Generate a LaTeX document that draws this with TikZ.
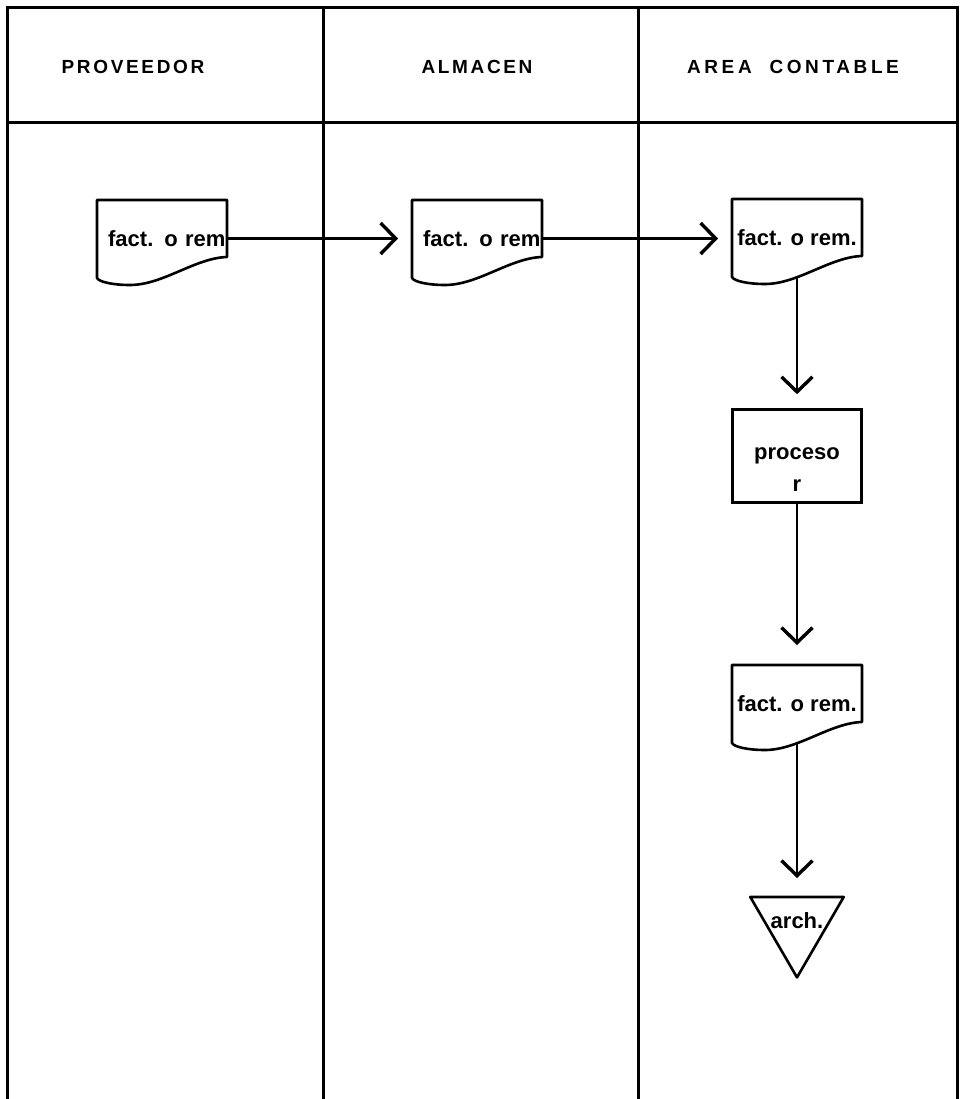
\documentclass[tikz,border=0pt]{standalone}
\usepackage{fontspec}
\setmainfont{Liberation Sans}
\newfontfamily\hdrfont[LetterSpace=14]{Liberation Sans}
\newfontfamily\hdrwidefont[LetterSpace=19]{Liberation Sans}
\usetikzlibrary{arrows.meta}

% outline of a document symbol drawn around a (borderless) node
\newcommand\docoutline[1]{%
  \draw[outl] (#1.north west) -- (#1.north east) -- ([yshift=-57pt]#1.north east)
    .. controls ([shift={(-32pt,-58pt)}]#1.north east) and ([shift={(66pt,-85pt)}]#1.north west)
    .. ([shift={(33pt,-85pt)}]#1.north west)
    .. controls ([shift={(16pt,-85pt)}]#1.north west) and ([shift={(2pt,-82pt)}]#1.north west)
    .. ([yshift=-78pt]#1.north west) -- cycle;}

\begin{document}
\begin{tikzpicture}[x=1pt,y=-1pt,
  frame/.style={line width=3pt},
  outl/.style={line width=2.6pt, line join=round},
  hdr/.style={font=\hdrfont\bfseries\fontsize{19}{22}\selectfont},
  txt/.style={font=\bfseries\fontsize{22}{25}\selectfont},
  docnode/.style={txt, minimum width=130pt, minimum height=77pt, inner sep=0pt, outer sep=0pt, anchor=north west},
  flushright/.style={text width=127pt, align=right},
  flow/.style={line width=2.6pt, -{Straight Barb[length=15pt,width=31pt,line width=3.4pt]}, shorten >=14pt}
]
\useasboundingbox (0,0) rectangle (959,1099);

% lanes and header
\draw[frame] (7,1099) -- (7,8) -- (957,8) -- (957,1099);
\draw[frame] (7,123) -- (957,123);
\draw[frame] (323,8) -- (323,1099);
\draw[frame] (638,8) -- (638,1099);

\node[hdr] (h1) at (133,67) {PROVEEDOR};
\node[hdr] (h2) at (477,67) {ALMACEN};
\node[hdr, font=\hdrwidefont\bfseries\fontsize{19}{22}\selectfont] (h3) at (793,67) {AREA\ \ CONTABLE};

% documents
\node[docnode, flushright] (d1) at (97,200) {fact. o rem};
\docoutline{d1}
\node[docnode, flushright] (d2) at (412,200) {fact. o rem};
\docoutline{d2}
\node[docnode] (d3) at (732,199) {fact. o rem.};
\docoutline{d3}

% process
\node[draw, line width=2.6pt, txt, minimum width=129pt, minimum height=93pt, inner sep=0pt] (proc) at (797,456) {proceso};
\node[txt, inner sep=0pt] (procr) at (797,486) {r};

\node[docnode] (d4) at (732,665) {fact. o rem.};
\docoutline{d4}

% file (triangle)
\node[txt, inner sep=0pt, minimum width=93pt, minimum height=80pt, text height=15pt, text depth=32pt, anchor=north] (arch) at (797,897) {arch.};
\draw[outl] (arch.north west) -- (arch.north east) -- (arch.south) -- cycle;

% flow
\draw[flow] (d1.east) -- (d2.west);
\draw[flow] (d2.east) -- (d3.west |- d2.east);
\draw[flow] (d3.south) -- (proc.north);
\draw[flow, shorten >=20pt] (proc.south) -- (d4.north);
\draw[flow, shorten >=19pt] (d4.south) -- (arch.north);
\end{tikzpicture}
\end{document}
